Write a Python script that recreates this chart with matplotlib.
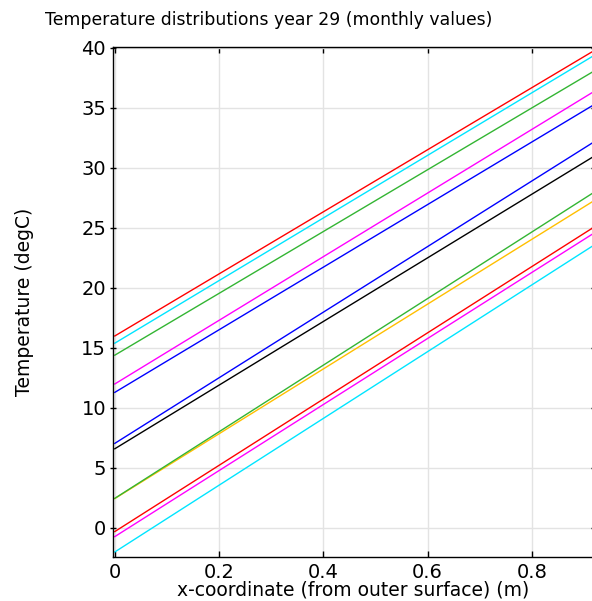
import numpy as np
import matplotlib
matplotlib.use("Agg")
import matplotlib.pyplot as plt
import matplotlib.ticker as ticker

# monthly temperature profiles through the wall, year 29
# each profile is a straight line: value at the outer surface and at x_end
x_ends = [0.0, 0.92]
months = ["Jan", "Feb", "Mar", "Apr", "May", "Jun",
          "Jul", "Aug", "Sep", "Oct", "Nov", "Dec"]
t_outer = [11.3, 14.4, 16.0, 15.4, 12.0, 2.45, 6.6, 7.05, 2.47, -0.3, -2.0, -0.72]
t_inner = [35.3, 38.1, 39.8, 39.4, 36.4, 27.3, 31.0, 32.2, 28.0, 25.1, 23.6, 24.6]
colors = ["#0000ff", "#33b533", "#ff0000", "#00e5ff", "#ff00ff", "#ffbf00",
          "#000000", "#0000ff", "#33b533", "#ff0000", "#00e5ff", "#ff00ff"]

plt.rcParams["font.family"] = "DejaVu Sans"

fig = plt.figure(figsize=(5.92, 6.01), dpi=100)
# axes run a little past the right edge of the picture, like the cropped original
ax = fig.add_axes([113 / 592, 1 - 557 / 601, 481 / 592, 510 / 601])

for t0, t1, c in zip(t_outer, t_inner, colors):
    ax.plot(x_ends, [t0, t1], color=c, lw=1.0)

ax.set_xlim(-0.0035, 0.919)
ax.set_ylim(-2.42, 40.08)
ax.xaxis.set_major_locator(ticker.MultipleLocator(0.2))
ax.yaxis.set_major_locator(ticker.MultipleLocator(5))
ax.xaxis.set_major_formatter(ticker.FuncFormatter(lambda v, p: "0" if abs(v) < 1e-9 else f"{v:g}"))
ax.grid(True, color="#e3e3e3", lw=1.0)
ax.set_axisbelow(True)

ax.tick_params(axis="both", labelsize=14, width=1.0, length=4, color="black")
ax.tick_params(axis="x", direction="in", top=True, pad=4)
ax.tick_params(axis="y", direction="inout", right=True, pad=3)
for s in ax.spines.values():
    s.set_linewidth(1.0)

ax.set_xlabel("x-coordinate (from outer surface) (m)", fontsize=13.5, labelpad=-1)
ax.set_ylabel("Temperature (degC)", fontsize=13.5, labelpad=34)
fig.text(269 / 592, 1 - 20 / 601, "Temperature distributions year 29 (monthly values)",
         ha="center", va="center", fontsize=12.4)

fig.savefig("out.png", dpi=100)
